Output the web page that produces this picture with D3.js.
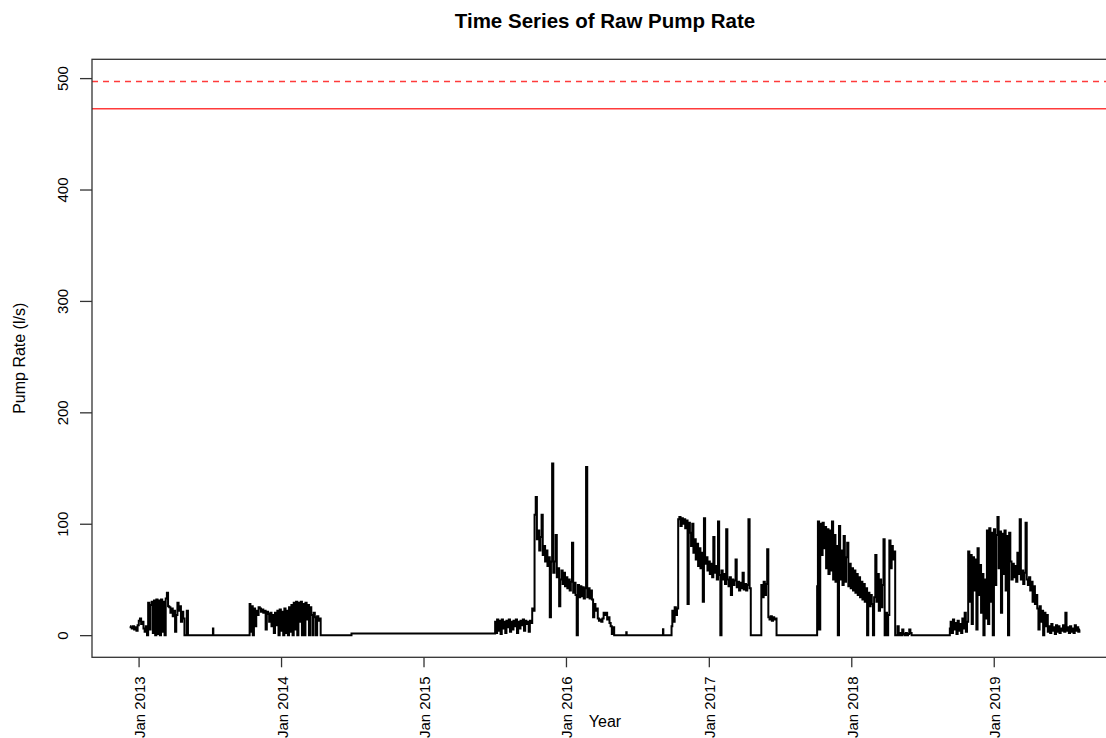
<!DOCTYPE html>
<html>
<head>
<meta charset="utf-8">
<script src="https://cdn.jsdelivr.net/npm/d3@7"></script>
<style>
  html, body { margin: 0; padding: 0; background: #fff; }
  svg text { font-family: "Liberation Sans", Arial, Helvetica, sans-serif; fill: #000; }
</style>
</head>
<body>
<svg id="chart" width="1106" height="738"></svg>
<script>
// Pump rate readings (l/s), one every 3 days through each pumping season
const stepDays = 3;
const seasonStarts = ["2012-12-10", "2013-10-13", "2015-07-04", "2016-09-28", "2017-10-06", "2018-09-11"];

const season2013 = [8,7,6,8,5,7,4,9,13,15,10,12,6,3,8,0,29,5,27,30,2,31,0,32,1,31,0,32,3,30,0,33,38,26,25,20,24,17,22,3,18,29,22,26,12,21,15,0,0,22,0];

const season2014 = [28,3,26,0,24,8,22,18,25,24,21,23,20,22,5,21,19,12,20,8,18,2,20,9,22,0,23,4,21,0,24,2,22,0,25,3,27,0,29,5,30,0,29,12,30,0,28,0,29,14,27,0,25,18,0,20,16,0,17,13,15,0];

const season2016 = [12,2,14,4,13,1,14,6,12,2,13,7,14,3,12,5,13,8,14,2,12,6,13,9,14,4,13,10,12,3,13,11,
  24,22,108,124,86,94,76,88,108,72,80,66,76,62,70,16,66,154,56,66,90,52,
  60,26,50,58,46,56,44,52,42,50,40,48,83,38,47,36,0,45,34,44,35,43,33,42,
  151,34,42,33,40,32,16,28,22,24,15,13,14,12,15,20,18,20,14,16,11,8,1,7,0];

const season2017 = [8,22,12,25,18,24,104,106,98,105,100,104,96,103,28,101,
  92,80,100,74,86,68,82,62,78,60,74,30,105,64,70,58,66,55,64,52,88,56,62,50,102,54,0,58,50,
  55,46,95,50,44,52,36,50,45,49,68,43,48,40,47,42,56,41,46,40,45,104,42,
  0,0,0,0,0,0,0,0,0,45,34,48,36,46,77,16,14,17,13,16,14,15,0];

const season2018 = [44,102,5,100,72,101,78,97,60,95,55,94,58,102,50,90,48,
  80,0,98,50,76,45,89,48,70,83,44,64,42,60,40,58,38,55,36,52,34,48,32,46,30,42,
  0,38,26,36,28,0,34,72,30,55,22,50,25,45,86,0,20,0,18,85,60,80,68,75,
  0,0,8,0,2,0,5,1,0,2,0,1,5,2,0];

const season2019 = [6,12,2,14,5,11,1,13,4,10,2,15,6,20,3,12,
  75,30,72,10,70,40,68,5,78,36,63,20,55,0,50,15,94,10,96,30,92,
  0,95,45,90,106,60,93,20,91,55,94,40,89,0,92,
  66,50,64,52,62,48,74,55,104,50,58,46,56,101,50,45,52,
  40,48,30,44,28,36,24,5,26,12,22,0,20,8,18,
  3,8,2,10,4,7,1,9,3,8,2,6,4,9,3,20,4,7,2,8,3,6,2,9,4,7,3,5];

const seasonValues = [season2013, season2014, season2016, season2017, season2018, season2019];

// Readings between the pumping seasons
const offDates = ["2013-05-10","2013-07-10","2013-07-11","2013-07-12","2013-10-12","2014-04-15",
  "2014-06-30","2014-07-01","2015-07-03","2016-05-06","2016-06-03","2016-06-04","2016-06-05",
  "2016-09-05","2016-09-06","2016-09-07","2016-09-27","2017-06-26","2017-10-05","2018-06-07","2018-09-10"];
const offValues = [0,0,6,0,0,0,0,1.5,1.5,0,0,2.5,0,0,5.4,0,0,0,0,0,0];

// Reference levels
const upperLimit = 497;   // dashed
const ratedLimit = 472.5; // solid

const xTickDates = ["2013-01-01","2014-01-01","2015-01-01","2016-01-01","2017-01-01","2018-01-01","2019-01-01"];
const xTickLabels = ["Jan 2013","Jan 2014","Jan 2015","Jan 2016","Jan 2017","Jan 2018","Jan 2019"];
const yTicks = [0, 100, 200, 300, 400, 500];

// ---- assemble the series ----
const parse = d3.utcParse("%Y-%m-%d");
const series = [];
seasonValues.forEach((vals, s) => {
  const start = parse(seasonStarts[s]);
  vals.forEach((v, i) => series.push({ date: d3.utcDay.offset(start, i * stepDays), value: v }));
});
offDates.forEach((d, i) => series.push({ date: parse(d), value: offValues[i] }));
series.sort((a, b) => a.date - b.date);

// ---- layout ----
const svg = d3.select("#chart");
const plot = { left: 92, right: 1118, top: 59.3, bottom: 657.3 };

const [t0, t1] = d3.extent(series, d => d.date);
const pad = (t1 - t0) * 0.04;
const x = d3.scaleUtc()
  .domain([new Date(+t0 - pad), new Date(+t1 + pad)])
  .range([plot.left, plot.right]);

const yPad = upperLimit * 0.04;
const y = d3.scaleLinear()
  .domain([0 - yPad, upperLimit + yPad])
  .range([plot.bottom, plot.top]);

// threshold lines
svg.append("line")
  .attr("x1", plot.left).attr("x2", plot.right)
  .attr("y1", y(upperLimit)).attr("y2", y(upperLimit))
  .attr("stroke", "#ff3b3b").attr("stroke-width", 1.6)
  .attr("stroke-dasharray", "6,5");
svg.append("line")
  .attr("x1", plot.left).attr("x2", plot.right)
  .attr("y1", y(ratedLimit)).attr("y2", y(ratedLimit))
  .attr("stroke", "#ff3b3b").attr("stroke-width", 1.6);

// pump rate line
const line = d3.line().curve(d3.curveStep).x(d => x(d.date)).y(d => y(d.value));
svg.append("path")
  .datum(series)
  .attr("d", line)
  .attr("fill", "none")
  .attr("stroke", "#000")
  .attr("stroke-width", 2)
  .attr("stroke-linejoin", "miter");

// plot frame
svg.append("rect")
  .attr("x", plot.left).attr("y", plot.top)
  .attr("width", plot.right - plot.left).attr("height", plot.bottom - plot.top)
  .attr("fill", "none").attr("stroke", "#333").attr("stroke-width", 1.3);

// y axis
const yAxis = svg.append("g")
  .attr("transform", `translate(${plot.left},0)`)
  .call(d3.axisLeft(y).tickValues(yTicks).tickSize(12).tickSizeOuter(0).tickFormat(d3.format("d")));
yAxis.select(".domain").remove();
yAxis.selectAll(".tick line").attr("stroke", "#333").attr("stroke-width", 1.3);
yAxis.selectAll(".tick text")
  .attr("transform", "rotate(-90)")
  .attr("x", 0).attr("y", -24).attr("dy", 0)
  .attr("text-anchor", "middle")
  .style("font-size", "15px")
  .style("font-family", "'Liberation Sans', Arial, sans-serif");

// x axis
const tickDates = xTickDates.map(parse);
const xAxis = svg.append("g")
  .attr("transform", `translate(0,${plot.bottom})`)
  .call(d3.axisBottom(x).tickValues(tickDates).tickSize(10).tickSizeOuter(0)
    .tickFormat((d, i) => xTickLabels[i]));
xAxis.select(".domain").remove();
xAxis.selectAll(".tick line").attr("stroke", "#333").attr("stroke-width", 1.3);
xAxis.selectAll(".tick text")
  .attr("transform", "rotate(-90)")
  .attr("x", -19).attr("y", 6).attr("dy", 0)
  .attr("text-anchor", "end")
  .style("font-size", "15px")
  .style("font-family", "'Liberation Sans', Arial, sans-serif");

// titles
svg.append("text")
  .attr("x", (plot.left + plot.right) / 2).attr("y", 28)
  .attr("text-anchor", "middle")
  .style("font-size", "20.5px").style("font-weight", "bold")
  .text("Time Series of Raw Pump Rate");

svg.append("text")
  .attr("x", (plot.left + plot.right) / 2).attr("y", 727)
  .attr("text-anchor", "middle")
  .style("font-size", "16px")
  .text("Year");

svg.append("text")
  .attr("transform", `translate(25,${(plot.top + plot.bottom) / 2}) rotate(-90)`)
  .attr("text-anchor", "middle")
  .style("font-size", "16px")
  .text("Pump Rate (l/s)");
</script>
</body>
</html>
